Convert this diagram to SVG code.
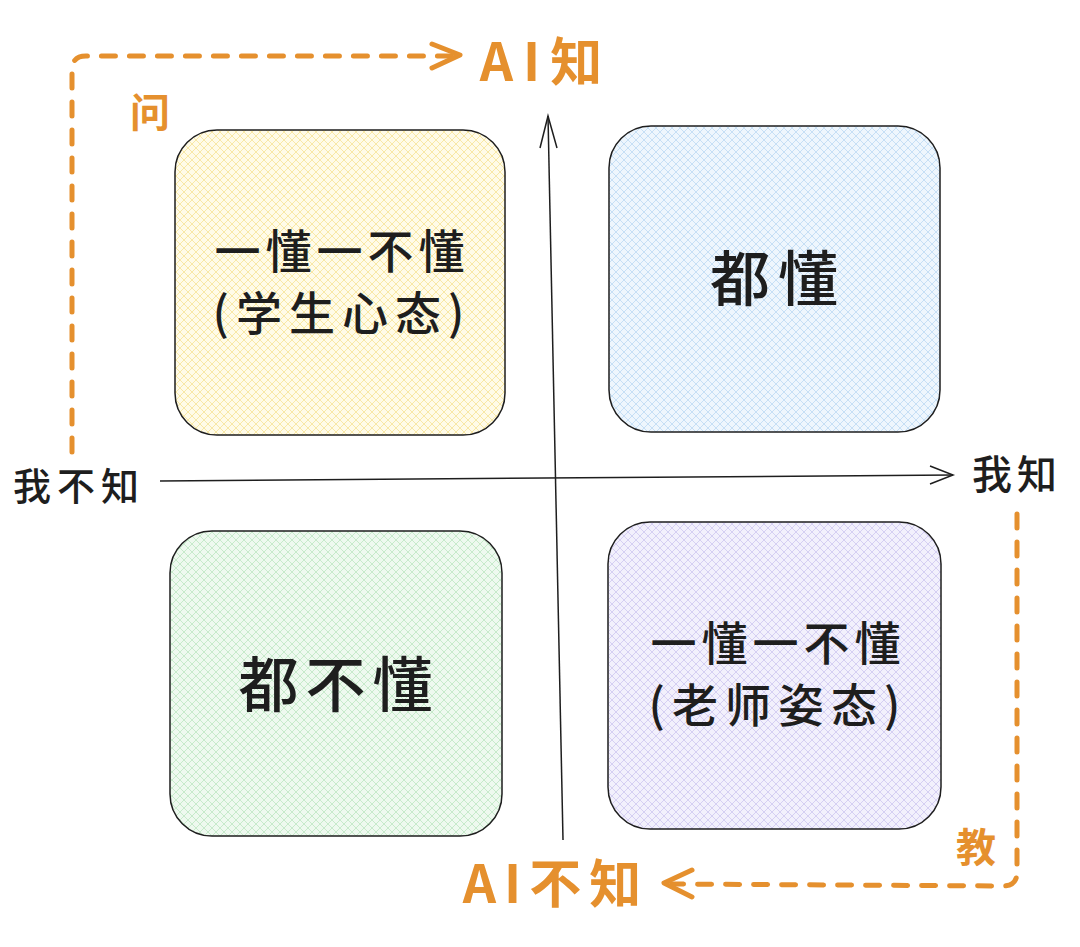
<svg xmlns="http://www.w3.org/2000/svg" width="1080" height="947" viewBox="0 0 1080 947">
<style>
.box{stroke:#1e1e1e;stroke-width:1.5}
.t{font-family:"Noto Sans CJK SC","Noto Sans",sans-serif;fill:#1e1e1e;text-anchor:middle;dominant-baseline:central;font-weight:500}
.o{font-family:"Noto Sans CJK SC","Noto Sans",sans-serif;fill:#e5902e;text-anchor:middle;dominant-baseline:central;font-weight:bold}
.axis{stroke:#1e1e1e;stroke-width:1.5;fill:none}
.dash{stroke:#e5902e;stroke-width:5;fill:none;stroke-dasharray:14 14;stroke-linecap:round;stroke-linejoin:round}
.head{stroke:#e5902e;stroke-width:5;fill:none;stroke-linecap:round;stroke-linejoin:round}
</style>
<defs>
<pattern id="py" width="8" height="8" patternUnits="userSpaceOnUse"><rect width="8" height="8" fill="#fffbe8"/><path d="M0 0L8 8M8 0L0 8" stroke="#f5e08a" stroke-width="0.7"/></pattern>
<pattern id="pb" width="8" height="8" patternUnits="userSpaceOnUse"><rect width="8" height="8" fill="#eef6fd"/><path d="M0 0L8 8M8 0L0 8" stroke="#b5d6f2" stroke-width="0.7"/></pattern>
<pattern id="pg" width="8" height="8" patternUnits="userSpaceOnUse"><rect width="8" height="8" fill="#eef9ef"/><path d="M0 0L8 8M8 0L0 8" stroke="#b6e4bc" stroke-width="0.7"/></pattern>
<pattern id="pp" width="8" height="8" patternUnits="userSpaceOnUse"><rect width="8" height="8" fill="#f2f0fc"/><path d="M0 0L8 8M8 0L0 8" stroke="#c9c2ee" stroke-width="0.7"/></pattern>
</defs>
<rect width="1080" height="947" fill="#ffffff"/>
<g id="connectors">
<path class="axis" d="M160 481 L953 475"/>
<path class="axis" d="M930 466 L953 475 L930 484"/>
<path class="axis" d="M563 840 L548 116"/>
<path class="axis" d="M540 148 L548 116 L557 148"/>
<path class="dash" d="M72 452 L72 70 Q72 56 86 56 L452 56"/>
<path class="head" d="M432 44 L460 55 L432 68"/>
<path class="dash" d="M1017 514 L1017 872 Q1017 886 1003 886 L672 884"/>
<path class="head" d="M692 870 L664 883 L692 897"/>
</g>
<g id="q1"><rect class="box" x="175" y="130" width="330" height="305" rx="42" fill="url(#py)"/>
<text class="t" x="342" y="248" font-size="46" letter-spacing="5">一懂一不懂</text>
<text class="t" x="342" y="310" font-size="46" letter-spacing="7">(学生心态)</text></g>
<g id="q2"><rect class="box" x="609" y="126" width="331" height="306" rx="42" fill="url(#pb)"/>
<text class="t" x="778" y="274" font-size="60" letter-spacing="8">都懂</text></g>
<g id="q3"><rect class="box" x="170" y="531" width="332" height="305" rx="42" fill="url(#pg)"/>
<text class="t" x="339" y="680" font-size="60" letter-spacing="7">都不懂</text></g>
<g id="q4"><rect class="box" x="608" y="522" width="333" height="307" rx="42" fill="url(#pp)"/>
<text class="t" x="778" y="640" font-size="46" letter-spacing="5">一懂一不懂</text>
<text class="t" x="778" y="702" font-size="46" letter-spacing="7">(老师姿态)</text></g>
<g id="labels">
<text class="t" x="79" y="483" font-size="38" letter-spacing="6">我不知</text>
<text class="t" x="1017" y="472" font-size="40" letter-spacing="5">我知</text>
<text class="o" x="546" y="58" font-size="52" letter-spacing="10">AI知</text>
<text class="o" x="150" y="110" font-size="40">问</text>
<text class="o" x="976" y="845" font-size="40">教</text>
<text class="o" x="556" y="880" font-size="52" letter-spacing="8">AI不知</text>
</g>
</svg>
